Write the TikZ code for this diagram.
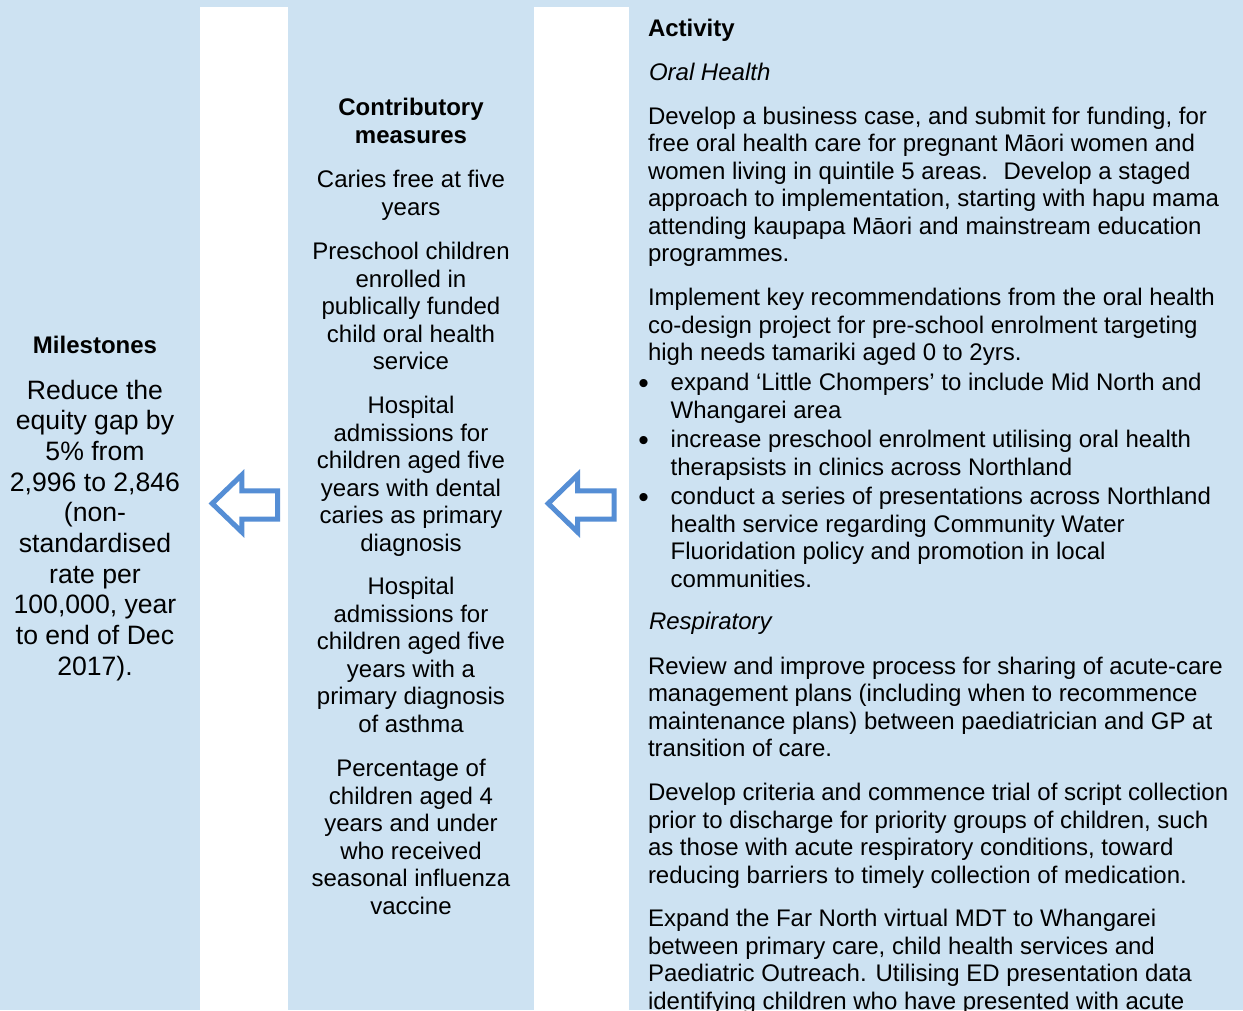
\documentclass[tikz,border=0pt]{standalone}
\usepackage{fontspec}
\setmainfont{Liberation Sans}
\definecolor{panelblue}{RGB}{205,226,242}
\definecolor{arrowblue}{RGB}{85,142,213}
\tikzset{
  txt/.style={inner sep=0pt, outer sep=0pt, anchor=north, align=center, font=\fontsize{24}{27.5}\selectfont},
  txtl/.style={txt, anchor=north west, align=left},
  bigtxt/.style={txt, font=\fontsize{26.6}{30.67}\selectfont},
  head/.style={txt, font=\fontsize{24}{27.5}\selectfont\bfseries},
  headl/.style={txtl, font=\fontsize{24}{27.5}\selectfont\bfseries},
  subhead/.style={txtl, font=\fontsize{24}{27.5}\selectfont\itshape},
  bul/.style={inner sep=0pt, outer sep=0pt, anchor=base, font=\fontsize{30}{30}\selectfont},
  hollowarrow/.style={draw=arrowblue, fill=white, line width=5pt, line join=miter}
}
\begin{document}
\begin{tikzpicture}[x=1pt,y=-1pt]
\clip (0,0) rectangle (1243,1010);
\fill[panelblue] (0,0) rectangle (1243,1010);
\fill[white] (200,7) rectangle (288,1010);
\fill[white] (534,7) rectangle (628.5,1010);

% Left column
\node[head] (mil) at (95,353.5-19.25) {\strut Milestones};
\node[bigtxt] (milbody) at (95,399-21.47) {\strut Reduce the\\equity gap by\\5\% from\\2,996 to 2,846\\(non-\\standardised\\rate per\\100,000, year\\to end of Dec\\2017).};

% Middle column
\node[head] (contrib) at (411,115.5-19.25) {\strut Contributory\\measures};
\node[txt] (m1) at (411,187.5-19.25) {\strut Caries free at five\\years};
\node[txt] (m2) at (411,259.5-19.25) {\strut Preschool children\\enrolled in\\publically funded\\child oral health\\service};
\node[txt] (m3) at (411,413.5-19.25) {\strut Hospital\\admissions for\\children aged five\\years with dental\\caries as primary\\diagnosis};
\node[txt] (m4) at (411,594.5-19.25) {\strut Hospital\\admissions for\\children aged five\\years with a\\primary diagnosis\\of asthma};
\node[txt] (m5) at (411,776.5-19.25) {\strut Percentage of\\children aged 4\\years and under\\who received\\seasonal influenza\\vaccine};

% Right column
\node[headl] (act) at (648,36.5-19.25) {\strut Activity};
\node[subhead] (oral) at (649,80.5-19.25) {\strut Oral Health};
\node[txtl] (p1) at (648,124.3-19.25) {\strut Develop a business case, and submit for funding, for\\free oral health care for pregnant Māori women and\\women living in quintile 5 areas.~ Develop a staged\\approach to implementation, starting with hapu mama\\attending kaupapa Māori and mainstream education\\programmes.};
\node[txtl] (p2) at (648,305.5-19.25) {\strut Implement key recommendations from the oral health\\co-design project for pre-school enrolment targeting\\high needs tamariki aged 0 to 2yrs.};
\node[bul] (b1dot) at (643.5,393) {•};
\node[txtl] (b1) at (670.7,390.5-19.25) {\strut expand ‘Little Chompers’ to include Mid North and\\Whangarei area};
\node[bul] (b2dot) at (643.5,450) {•};
\node[txtl] (b2) at (670.7,447.5-19.25) {\strut increase preschool enrolment utilising oral health\\therapsists in clinics across Northland};
\node[bul] (b3dot) at (643.5,507) {•};
\node[txtl] (b3) at (670.7,504.5-19.25) {\strut conduct a series of presentations across Northland\\health service regarding Community Water\\Fluoridation policy and promotion in local\\communities.};
\node[subhead] (resp) at (649,629.5-19.25) {\strut Respiratory};
\node[txtl] (p3) at (648,674-19.25) {\strut Review and improve process for sharing of acute-care\\management plans (including when to recommence\\maintenance plans) between paediatrician and GP at\\transition of care.};
\node[txtl] (p4) at (648,800.5-19.25) {\strut Develop criteria and commence trial of script collection\\prior to discharge for priority groups of children, such\\as those with acute respiratory conditions, toward\\reducing barriers to timely collection of medication.};
\node[txtl] (p5) at (648,926.5-19.25) {\strut Expand the Far North virtual MDT to Whangarei\\between primary care, child health services and\\Paediatric Outreach. Utilising ED presentation data\\identifying children who have presented with acute};

% Hollow arrows
\draw[hollowarrow] (212.2,503.5) -- (241.8,475) -- (241.8,490.8) -- (277.5,490.8) -- (277.5,519.2) -- (241.8,519.2) -- (241.8,532) -- cycle;
\draw[hollowarrow] (548.2,503.5) -- (577.5,475) -- (577.5,490.8) -- (614.2,490.8) -- (614.2,519.2) -- (577.5,519.2) -- (577.5,532) -- cycle;
\end{tikzpicture}
\end{document}
